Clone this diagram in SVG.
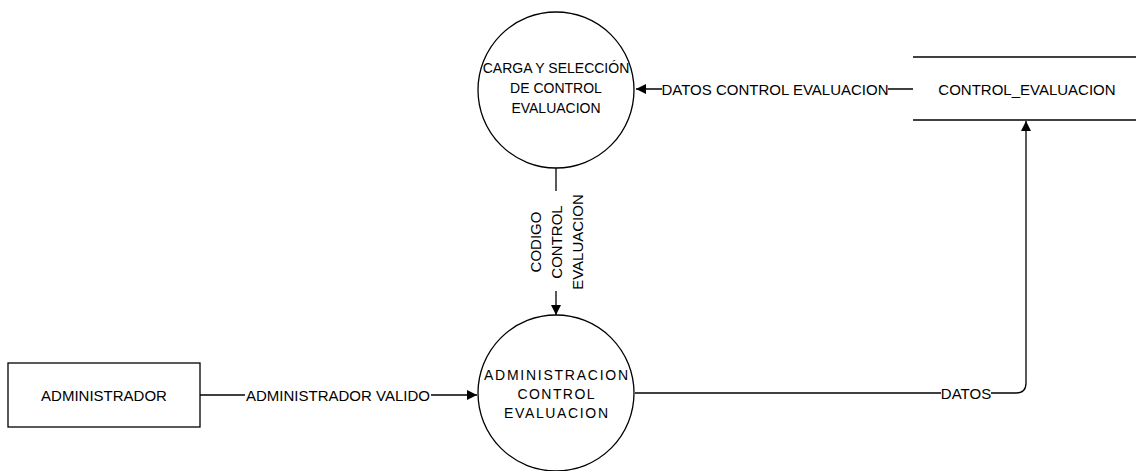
<svg xmlns="http://www.w3.org/2000/svg" width="1136" height="471" viewBox="0 0 1136 471">
<defs>
<style>
text{font-family:"Liberation Sans",Arial,sans-serif;font-size:15px;fill:#000;text-anchor:middle;dominant-baseline:central}
.s{font-size:14px}
.n{fill:#fff;stroke:#000;stroke-width:1.3}
.c{fill:none;stroke:#000;stroke-width:1.3}
.lb{fill:#fff;stroke:none}
</style>
<marker id="ah" viewBox="0 0 10 10" refX="10" refY="5" markerWidth="10" markerHeight="10" markerUnits="userSpaceOnUse" orient="auto">
<path d="M0,0 L10,5 L0,10 Z" fill="#000"/>
</marker>
</defs>
<rect width="1136" height="471" fill="#fff"/>
<g id="connectors">
<path class="c" d="M913,89 L636,89" marker-end="url(#ah)"/>
<path class="c" d="M556,168 L556,315" marker-end="url(#ah)"/>
<path class="c" d="M200,395 L477,395" marker-end="url(#ah)"/>
<path class="c" d="M635,393 L1016,393 Q1026,393 1026,383 L1026,121" marker-end="url(#ah)"/>
<rect class="lb" x="662" y="80" width="226" height="18"/>
<text x="775" y="89">DATOS CONTROL EVALUACION</text>
<rect class="lb" x="245" y="386" width="186" height="18"/>
<text x="338" y="395">ADMINISTRADOR VALIDO</text>
<rect class="lb" x="941" y="384" width="50" height="18"/>
<text x="966" y="393">DATOS</text>
<rect class="lb" x="523" y="191" width="66" height="100"/>
<text transform="translate(556,242) rotate(-90)"><tspan x="0" y="-21">CODIGO</tspan><tspan x="0" y="0">CONTROL</tspan><tspan x="0" y="21">EVALUACION</tspan></text>
</g>
<g id="carga">
<circle class="n" cx="556" cy="90" r="78"/>
<text class="s" x="556" y="68">CARGA Y SELECCIÓN</text>
<text class="s" x="556" y="88">DE CONTROL</text>
<text class="s" x="556" y="108">EVALUACION</text>
</g>
<g id="admin_control">
<circle class="n" cx="556" cy="393" r="78"/>
<text class="s" x="556" y="375" textLength="144" lengthAdjust="spacing">ADMINISTRACION</text>
<text class="s" x="556" y="394" textLength="77" lengthAdjust="spacing">CONTROL</text>
<text class="s" x="556" y="413" textLength="104" lengthAdjust="spacing">EVALUACION</text>
</g>
<g id="store">
<line class="c" x1="913" y1="57" x2="1136" y2="57"/>
<line class="c" x1="913" y1="120" x2="1136" y2="120"/>
<text x="1027" y="89">CONTROL_EVALUACION</text>
</g>
<g id="administrador">
<rect class="n" x="8" y="363" width="192" height="64"/>
<text x="104" y="395">ADMINISTRADOR</text>
</g>
</svg>
